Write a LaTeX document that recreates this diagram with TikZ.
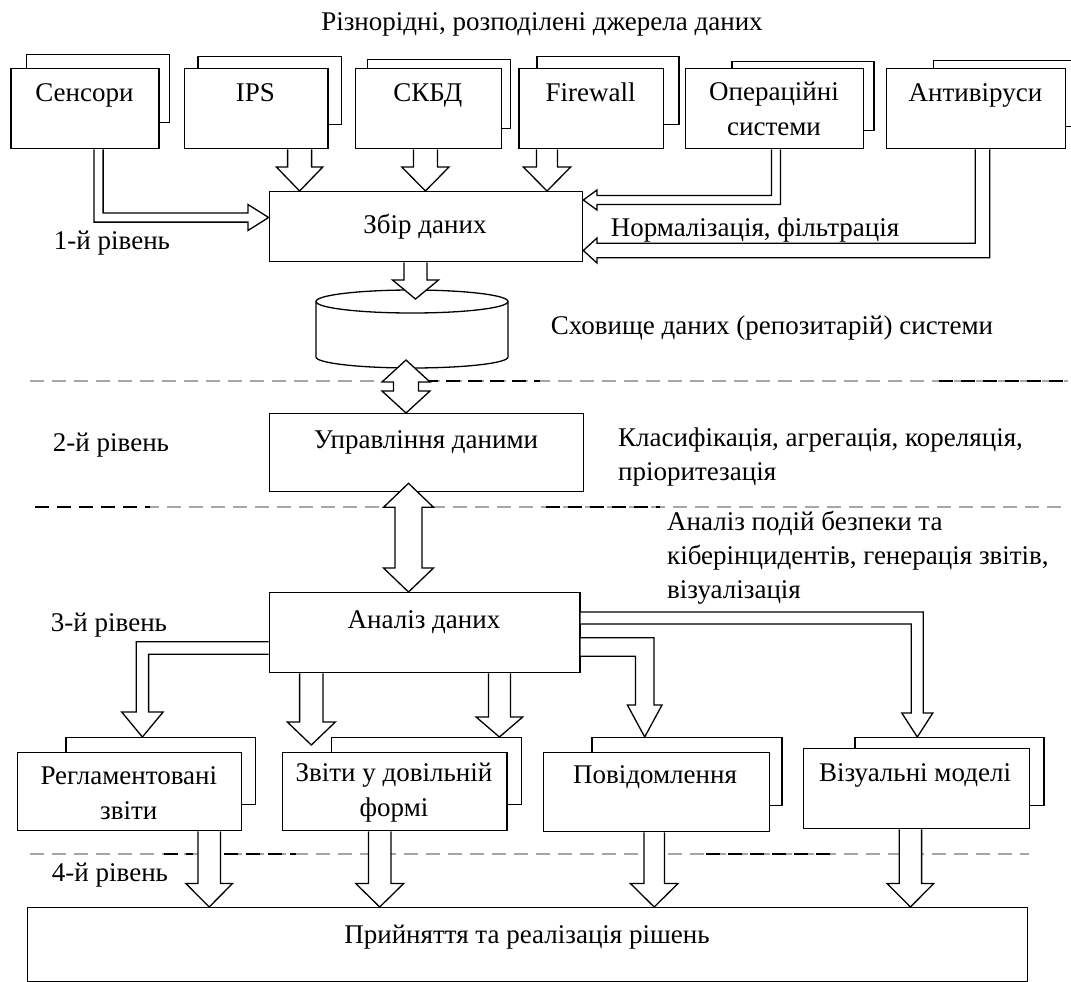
\documentclass[tikz,border=0pt]{standalone}
\usepackage{fontspec}
\setmainfont{Liberation Serif}
\usetikzlibrary{calc}
\tikzset{
  box/.style={draw, fill=white, line width=1.3pt, inner sep=0pt, anchor=north west},
  blk/.style={draw, fill=white, line width=1.3pt, line join=miter},
  txt/.style={inner sep=0pt, font=\fontsize{27}{35}\selectfont, text height=18.5pt, text depth=5.5pt},
  mtxt/.style={inner sep=0pt, font=\fontsize{27}{35}\selectfont, align=center},
  ltxt/.style={inner sep=0pt, font=\fontsize{27}{34}\selectfont, align=left, anchor=west},
  dashg/.style={draw=gray!70, line width=1.4pt, dash pattern=on 14pt off 8pt},
  dashk/.style={draw=black, line width=1.4pt, dash pattern=on 14pt off 8pt},
  cyl/.style={draw, fill=white, line width=1.3pt}
}
% box: name, x1, y1, x2, y2 (pixel coordinates)
\newcommand\bx[5]{\node[box, minimum width={(#4)-(#2)}, minimum height={(#5)-(#3)}] (#1) at (#2,#3) {};}
% vertical block arrow: x, tail, tip, shaft half, head half, head length (+ = pointing down)
\newcommand\vblk[6]{\draw[blk] let \p1=#2, \p2=#3 in
  (#1pt-#4pt,\y1) -- (#1pt-#4pt,\y2+#6pt) -- (#1pt-#5pt,\y2+#6pt) -- (#1pt,\y2)
  -- (#1pt+#5pt,\y2+#6pt) -- (#1pt+#4pt,\y2+#6pt) -- (#1pt+#4pt,\y1);}
% double vertical block arrow: x, top tip, bottom tip, shaft half, head half, head length
\newcommand\dblk[6]{\draw[blk] let \p1=#2, \p2=#3 in
  (#1pt,\y1) -- (#1pt+#5pt,\y1-#6pt) -- (#1pt+#4pt,\y1-#6pt) -- (#1pt+#4pt,\y2+#6pt) -- (#1pt+#5pt,\y2+#6pt) -- (#1pt,\y2)
  -- (#1pt-#5pt,\y2+#6pt) -- (#1pt-#4pt,\y2+#6pt) -- (#1pt-#4pt,\y1-#6pt) -- (#1pt-#5pt,\y1-#6pt) -- cycle;}
% down then sideways: x of shaft, tail, tip, y of horizontal, shaft half, head half, head length, dir (1 right, -1 left)
\newcommand\vhblk[8]{\draw[blk] let \p1=#2, \p2=#3 in
  (#1pt-#8*#5pt,\y1) -- (#1pt-#8*#5pt,-#4pt-#5pt) -- (\x2-#8*#7pt,-#4pt-#5pt) -- (\x2-#8*#7pt,-#4pt-#6pt) -- (\x2,-#4pt)
  -- (\x2-#8*#7pt,-#4pt+#6pt) -- (\x2-#8*#7pt,-#4pt+#5pt) -- (#1pt+#8*#5pt,-#4pt+#5pt) -- (#1pt+#8*#5pt,\y1);}
% sideways then down: y of shaft, tail, x of vertical, tip, shaft half, head half, head length, dir (1 right, -1 left)
\newcommand\hvblk[8]{\draw[blk] let \p1=#2, \p2=#4 in
  (\x1,-#1pt+#5pt) -- (#3pt+#8*#5pt,-#1pt+#5pt) -- (#3pt+#8*#5pt,\y2+#7pt) -- (#3pt+#8*#6pt,\y2+#7pt) -- (#3pt,\y2)
  -- (#3pt-#8*#6pt,\y2+#7pt) -- (#3pt-#8*#5pt,\y2+#7pt) -- (#3pt-#8*#5pt,-#1pt-#5pt) -- (\x1,-#1pt-#5pt);}
\begin{document}
\begin{tikzpicture}[x=1pt,y=-1pt]
\useasboundingbox (0,0) rectangle (1071,982);
% level separators
\draw[dashg] (30,381) -- (1068,381);
\draw[dashk] (424,381) -- (540,381);
\draw[dashk] (939,381) -- (1068,381);
\draw[dashg] (35,507) -- (1068,507);
\draw[dashk] (35,507) -- (150,507);
\draw[dashk] (546,507) -- (660,507);
\draw[dashg] (30,854) -- (1029,854);
\draw[dashk] (164,854) -- (193,854);
\draw[dashk] (224,854) -- (296,854);
\draw[dashk] (706,854) -- (837,854);
% sources
\bx{sensb}{25.8}{54}{168.8}{122}
\bx{sens}{10.3}{68}{158.4}{148}
\bx{ipsb}{197.3}{56}{341}{124}
\bx{ips}{183.6}{68}{327.2}{148}
\bx{skbdb}{366.8}{59}{509.7}{128}
\bx{skbd}{354.7}{68}{501.1}{148}
\bx{fwb}{536.4}{56}{678.4}{124}
\bx{fw}{518.2}{68}{663.1}{148}
\bx{osb}{731.2}{61}{873.3}{130}
\bx{os}{685}{68}{863}{148}
\bx{avb}{932.6}{60}{1074}{126}
\bx{av}{886}{68}{1065}{148}
% main chain
\bx{zbir}{268.6}{191}{582}{261}
\draw[cyl] (316,301.5) -- (316,357) arc[start angle=180, end angle=360, x radius=96pt, y radius=11pt] -- (508,301.5);
\draw[cyl] (412,301.5) ellipse [x radius=96pt, y radius=11.5pt];
\coordinate (cyltop) at (415.5,299);
\coordinate (cylbot) at (406,360);
\bx{upr}{269}{413}{583}{491}
\bx{an}{268.6}{592}{579.3}{672}
% outputs
\bx{reglb}{65.4}{737}{254.9}{804}
\bx{regl}{16.5}{752}{241}{830}
\bx{zvb}{330.6}{737}{520.7}{804}
\bx{zv}{281.7}{752}{506.3}{830}
\bx{povb}{591.4}{737}{781.2}{805}
\bx{pov}{543.1}{752}{768.8}{831}
\bx{vizb}{854.3}{737}{1043.4}{805}
\bx{viz}{802.6}{748}{1028.6}{828}
\bx{rish}{26.9}{907}{1026.8}{981}
% arrows level 1
\vhblk{98.5}{(sens.south)}{(zbir.west)}{217.5}{4.6}{13}{20.6}{1}
\vblk{299.6}{(ips.south)}{(zbir.north)}{12}{23.2}{24}
\vblk{425.4}{(skbd.south)}{(zbir.north)}{12}{23.6}{24}
\vblk{547}{(fw.south)}{(zbir.north)}{10.5}{23.7}{24}
\vhblk{776}{(os.south)}{(zbir.east)}{200}{4.5}{10}{13.7}{-1}
\vhblk{982.5}{(av.south)}{(zbir.east)}{250.5}{7.2}{12.5}{13.7}{-1}
\vblk{415.5}{(zbir.south)}{(cyltop)}{11.5}{23}{19}
% arrows level 2
\dblk{406}{(cylbot)}{(upr.north)}{12.5}{24}{22}
\dblk{408.5}{($(upr.south)+(0,-9)$)}{(an.north)}{13.5}{25}{24}
% arrows level 3
\hvblk{648}{(an.west)}{142.4}{(reglb.north)}{6.2}{20.7}{25}{-1}
\vblk{311.3}{(an.south)}{($(zv.north)+(0,-7)$)}{11.7}{24}{23}
\vblk{499.4}{(an.south)}{(zvb.north)}{11}{23.3}{20}
\hvblk{647}{(an.east)}{644.7}{(povb.north)}{9.2}{17.3}{32}{1}
\hvblk{618}{(an.east)}{917.3}{(vizb.north)}{6}{15.5}{24}{1}
% arrows level 4
\vblk{209.2}{(regl.south)}{(rish.north)}{11.2}{23.3}{23.5}
\vblk{379.7}{(zv.south)}{(rish.north)}{11.2}{24}{23.5}
\vblk{654.2}{(pov.south)}{(rish.north)}{10.3}{23.8}{23.5}
\vblk{910.4}{(viz.south)}{(rish.north)}{11.2}{23.3}{23.5}
% texts
\node[txt] (t0) at (542,24) {Різнорідні, розподілені джерела даних};
\node[txt] (t1) at (84.4,95) {Сенсори};
\node[txt] (t2) at (255.4,95) {IPS};
\node[txt] (t3) at (427.9,95) {СКБД};
\node[txt] (t4) at (590.7,95) {Firewall};
\node[mtxt] (t5) at (774,108.5) {Операційні\\системи};
\node[txt] (t6) at (975.5,95) {Антивіруси};
\node[txt] (t7) at (425,227) {Збір даних};
\node[txt] (t8) at (112,243) {1-й рівень};
\node[txt] (t9) at (755,230) {Нормалізація, фільтрація};
\node[txt] (t10) at (772,328) {Сховище даних (репозитарій) системи};
\node[txt] (t11) at (111,445) {2-й рівень};
\node[txt] (t12) at (426,442) {Управління даними};
\node[ltxt] (t13) at (618,457.5) {Класифікація, агрегація, кореляція,\\пріоритезація};
\node[ltxt] (t14) at (667,558) {Аналіз подій безпеки та\\кіберінцидентів, генерація звітів,\\візуалізація};
\node[txt] (t15) at (109,625) {3-й рівень};
\node[txt] (t16) at (424,622) {Аналіз даних};
\node[mtxt] (t17) at (128.8,793) {Регламентовані\\звіти};
\node[mtxt] (t18) at (394,793) {Звіти у довільній\\формі};
\node[txt] (t19) at (655,777) {Повідомлення};
\node[txt] (t20) at (915,775) {Візуальні моделі};
\node[txt] (t21) at (110,875) {4-й рівень};
\node[txt] (t22) at (527,937) {Прийняття та реалізація рішень};
\end{tikzpicture}
\end{document}
